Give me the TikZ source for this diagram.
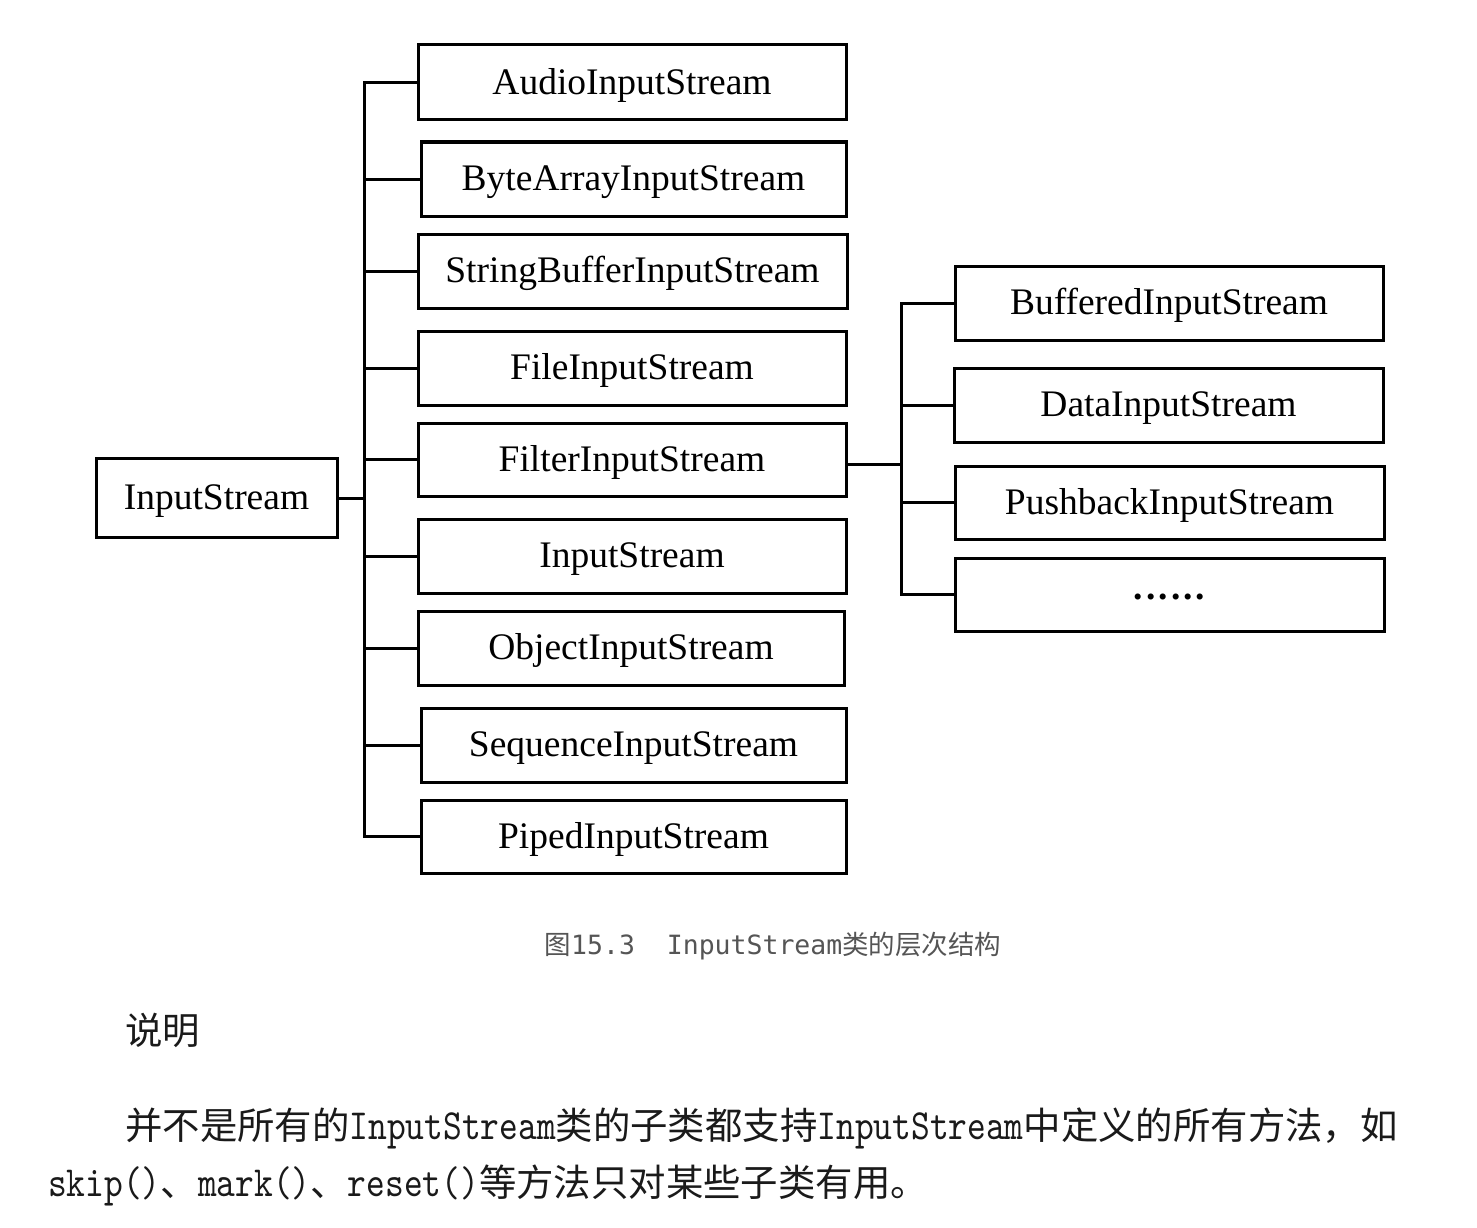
\documentclass[tikz,border=0pt]{standalone}
\usepackage{fontspec}
\setmainfont{Liberation Serif}
\newfontfamily\cjkfont{Noto Sans CJK SC}
\newfontfamily\capmono{DejaVu Sans Mono}
\newfontfamily\bodymono[Scale=1.15,FakeStretch=0.83]{lmmono10-regular.otf}
\newcommand\latpart[1]{{\bodymono #1}}
\definecolor{capgray}{HTML}{555555}
\definecolor{bodyblack}{HTML}{1A1A1A}
\begin{document}
\begin{tikzpicture}[x=1pt,y=-1pt,
  box/.style={draw, line width=3pt, inner sep=0pt,
    font=\fontsize{37.5}{45}\selectfont, text height=28.5pt, text depth=5.2pt},
  conn/.style={line width=3pt, line cap=rect},
  bodytext/.style={anchor=base west, inner sep=0pt, text=bodyblack,
    font=\fontsize{37.4}{45}\selectfont\cjkfont}]
\useasboundingbox (0,0) rectangle (1477,1228);

% root
\node[box, minimum width=241, minimum height=79] (root) at (216.5,497.5) {InputStream};

% first level
\node[box, minimum width=428, minimum height=75] (a1) at (632,82.5) {AudioInputStream};
\node[box, minimum width=425, minimum height=74] (a2) at (633.5,179) {ByteArrayInputStream};
\node[box, minimum width=429, minimum height=74] (a3) at (632.5,271) {StringBufferInputStream};
\node[box, minimum width=428, minimum height=74] (a4) at (632,368) {FileInputStream};
\node[box, minimum width=428, minimum height=73] (a5) at (632,459.5) {FilterInputStream};
\node[box, minimum width=428, minimum height=74] (a6) at (632,556) {InputStream};
\node[box, minimum width=426, minimum height=74] (a7) at (631,648) {ObjectInputStream};
\node[box, minimum width=425, minimum height=74] (a8) at (633.5,745) {SequenceInputStream};
\node[box, minimum width=425, minimum height=73] (a9) at (633.5,836.5) {PipedInputStream};

% second level
\node[box, minimum width=428, minimum height=74] (b1) at (1169,303) {BufferedInputStream};
\node[box, minimum width=429, minimum height=74] (b2) at (1168.5,405) {DataInputStream};
\node[box, minimum width=429, minimum height=73] (b3) at (1169.5,502.5) {PushbackInputStream};
\node[box, minimum width=429, minimum height=73, text height=10pt, text depth=0pt] (b4) at (1169.5,594.5) {\textbf{.\kern3pt.\kern3pt.\kern3pt.\kern3pt.\kern3pt.}};

% buses
\coordinate (busL) at (364,0);
\coordinate (busR) at (901,0);

\draw[conn] ([yshift=-1pt]root.east) -- ([yshift=-1pt]root.east -| busL);
\draw[conn] (a1.west -| busL) -- (a9.west -| busL);
\foreach \n in {a1,a2,a3,a4,a5,a6,a7,a8,a9}{
  \draw[conn] (\n.west) -- (\n.west -| busL);
}
\draw[conn] ([yshift=-4.5pt]a5.east) -- ([yshift=-4.5pt]a5.east -| busR);
\draw[conn] (b1.west -| busR) -- (b4.west -| busR);
\foreach \n in {b1,b2,b3,b4}{
  \draw[conn] (\n.west) -- (\n.west -| busR);
}

% caption
\node[inner sep=0pt, text=capgray, font=\fontsize{26.5}{32}\selectfont] (cap) at (773,946)
  {{\cjkfont 图}{\capmono 15.3\ \ InputStream}{\cjkfont 类的层次结构}};

% body text
\node[bodytext] (t0) at (125,1044) {说明};
\node[bodytext] (t1) at (125,1139) {并不是所有的\latpart{InputStream}类的子类都支持\latpart{InputStream}中定义的所有方法，如};
\node[bodytext] (t2) at (48,1196) {\latpart{skip()}、\latpart{mark()}、\latpart{reset()}等方法只对某些子类有用。};
\end{tikzpicture}
\end{document}
